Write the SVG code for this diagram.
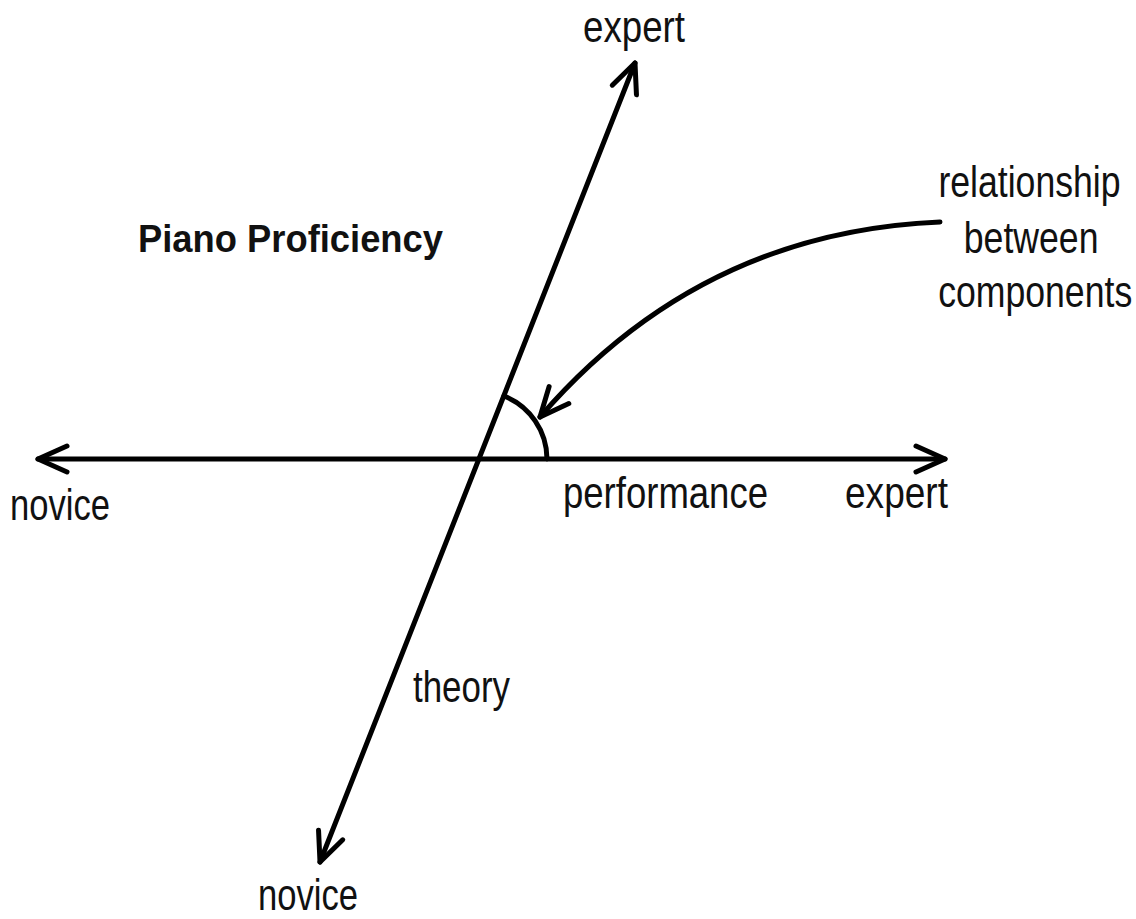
<svg xmlns="http://www.w3.org/2000/svg" width="1136" height="919" viewBox="0 0 1136 919">
<style>
.ax{fill:none;stroke:#000;stroke-width:5;stroke-linecap:round;stroke-linejoin:round}
.lb{font-family:"Liberation Sans",Arial,sans-serif;font-size:44px;fill:#111}
.tt{font-family:"Liberation Sans",Arial,sans-serif;font-size:38px;font-weight:bold;fill:#111}
</style>
<defs>
<marker id="ah" markerUnits="userSpaceOnUse" markerWidth="40" markerHeight="40" viewBox="-34 -20 40 40" refX="0" refY="0" orient="auto-start-reverse" overflow="visible">
<path d="M -29 -13 L 0 0 L -29 13" fill="none" stroke="#000" stroke-width="5" stroke-linecap="round" stroke-linejoin="round"/>
</marker>
</defs>
<rect width="1136" height="919" fill="#fff"/>
<g id="connectors">
<line id="performance-axis" class="ax" x1="38" y1="459" x2="945" y2="459" marker-start="url(#ah)" marker-end="url(#ah)"/>
<line id="theory-axis" class="ax" x1="320" y1="862" x2="635" y2="63" marker-start="url(#ah)" marker-end="url(#ah)"/>
<path id="angle-arc" class="ax" d="M 504 396 A 68 68 0 0 1 547 459"/>
<path id="relationship-arrow" class="ax" d="M 940 222 Q 700 232 540 417" marker-end="url(#ah)"/>
</g>
<g id="title"><text class="tt" x="138" y="252" textLength="305" lengthAdjust="spacingAndGlyphs">Piano Proficiency</text></g>
<g id="theory-expert"><text class="lb" x="583" y="42" textLength="102" lengthAdjust="spacingAndGlyphs">expert</text></g>
<g id="theory-novice"><text class="lb" x="258" y="910" textLength="100" lengthAdjust="spacingAndGlyphs">novice</text></g>
<g id="theory-label"><text class="lb" x="413" y="702" textLength="97" lengthAdjust="spacingAndGlyphs">theory</text></g>
<g id="performance-novice"><text class="lb" x="10" y="520" textLength="100" lengthAdjust="spacingAndGlyphs">novice</text></g>
<g id="performance-label"><text class="lb" x="563" y="508" textLength="205" lengthAdjust="spacingAndGlyphs">performance</text></g>
<g id="performance-expert"><text class="lb" x="845" y="508" textLength="103" lengthAdjust="spacingAndGlyphs">expert</text></g>
<g id="relationship-label" transform="scale(0.81,1)" text-anchor="middle">
<text class="lb" x="1271" y="197">relationship</text>
<text class="lb" x="1273" y="253">between</text>
<text class="lb" x="1278" y="307">components</text>
</g>
</svg>
